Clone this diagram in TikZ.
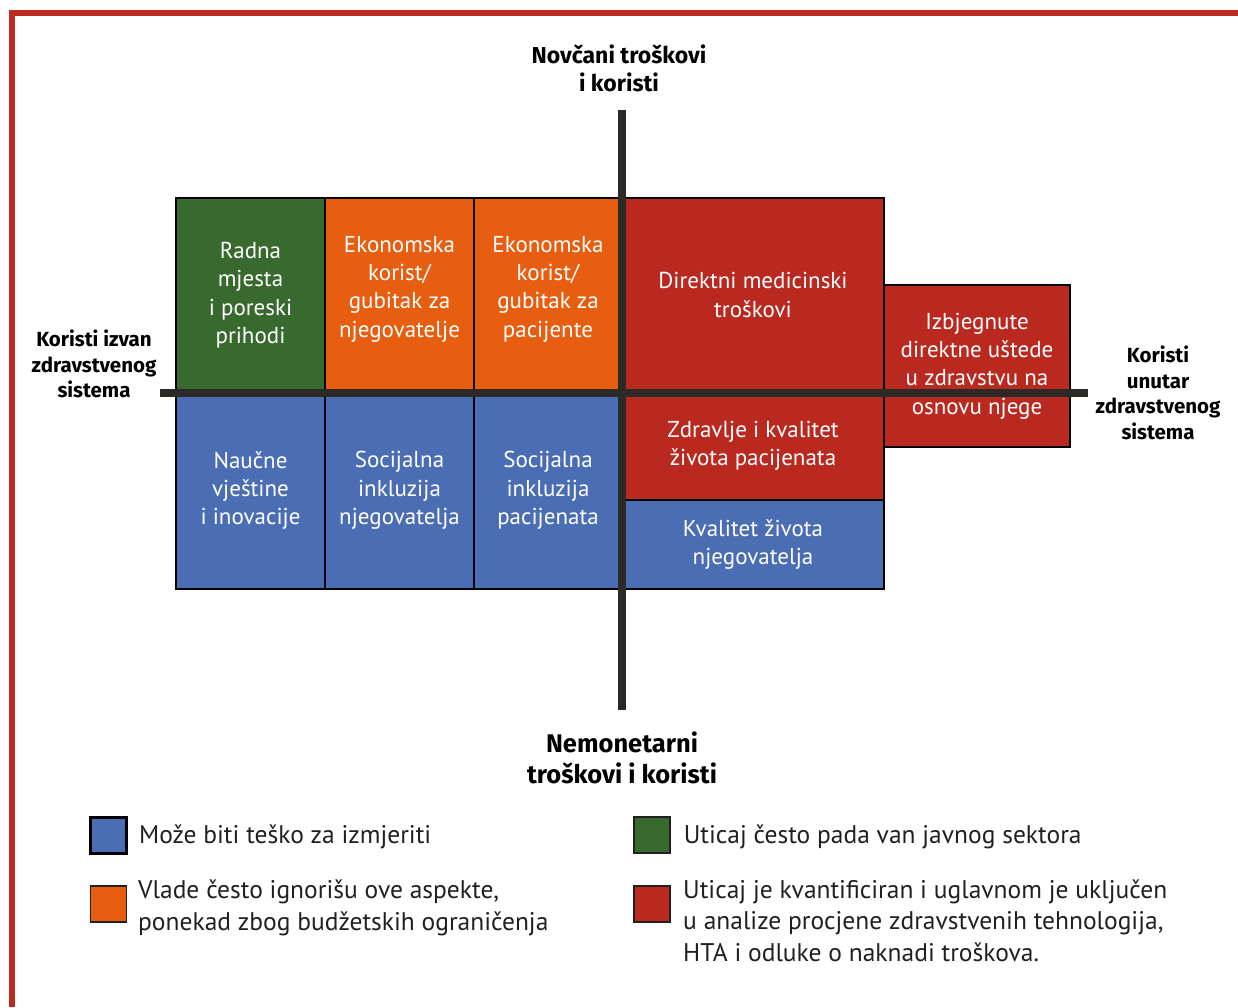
\documentclass[tikz,border=0pt]{standalone}
\usepackage{fontspec}
\setmainfont{PT Sans}
\newfontfamily\headfont{Fira Sans}
\usetikzlibrary{positioning}
\definecolor{frame}{HTML}{BD2B20}
\definecolor{cellgreen}{HTML}{386A2F}
\definecolor{cellorange}{HTML}{E85E10}
\definecolor{cellred}{HTML}{B9291F}
\definecolor{cellblue}{HTML}{4A6DB3}
\definecolor{axisgray}{HTML}{2B2A27}
\definecolor{ink}{HTML}{231F20}

\begin{document}
\begin{tikzpicture}[
  x=1pt, y=-1pt,
  cell/.style={draw=black, line width=2pt, text=white, align=center, inner sep=0pt,
    font=\fontsize{23}{28.3}\selectfont},
  axislabel/.style={text=black, align=center, font=\headfont\bfseries\fontsize{20.5}{25.5}\selectfont},
  legbox/.style={draw=ink, line width=1.2pt, minimum width=36pt, minimum height=36pt, inner sep=0pt},
  legtext/.style={text=ink, align=left, anchor=west, inner sep=0pt,
    font=\fontsize{25.5}{31.5}\selectfont},
]

\useasboundingbox (0,0) rectangle (1238,1007);

% Frame (left and top edge only)
\draw[frame, line width=5.5pt] (12,1007) -- (12,13) -- (1238,13);

% Upper row
\node[cell, fill=cellgreen, minimum width=149pt, minimum height=194pt] (jobs) at (250.5,295)
  {Radna\\mjesta\\i poreski\\prihodi};
\node[cell, fill=cellorange, minimum width=149pt, minimum height=194pt, text depth=17pt] (carerecon) at (399.5,295)
  {Ekonomska\\korist/\\gubitak za\\njegovatelje};
\node[cell, fill=cellorange, minimum width=148pt, minimum height=194pt, text depth=17pt] (patientecon) at (548,295)
  {Ekonomska\\korist/\\gubitak za\\pacijente};
\node[cell, fill=cellred, minimum width=262pt, minimum height=194pt] (directcost) at (753,295)
  {Direktni medicinski\\troškovi};
\node[cell, fill=cellred, minimum width=186pt, minimum height=162pt] (avoided) at (977,366)
  {Izbjegnute\\direktne uštede\\u zdravstvu na\\osnovu njege};

% Lower row
\node[cell, fill=cellblue, minimum width=149pt, minimum height=197pt] (science) at (250.5,490.5)
  {Naučne\\vještine\\i inovacije};
\node[cell, fill=cellblue, minimum width=149pt, minimum height=197pt] (carerincl) at (399.5,490.5)
  {Socijalna\\inkluzija\\njegovatelja};
\node[cell, fill=cellblue, minimum width=148pt, minimum height=197pt] (patientincl) at (548,490.5)
  {Socijalna\\inkluzija\\pacijenata};
\node[cell, fill=cellred, minimum width=262pt, minimum height=108pt] (patienthealth) at (753,446)
  {Zdravlje i kvalitet\\života pacijenata};
\node[cell, fill=cellblue, minimum width=262pt, minimum height=89pt] (carerqol) at (753,544.5)
  {Kvalitet života\\njegovatelja};

% Axes, drawn over the cells
\coordinate (ytop) at (622,110);
\coordinate (ybot) at (622,710);
\coordinate (xleft) at (160,393);
\coordinate (xright) at (1088,393);
\draw[axisgray, line width=8pt] (xleft) -- (xright);
\draw[axisgray, line width=8pt] (ytop) -- (ybot);

% Axis labels
\node[axislabel, font=\headfont\bfseries\fontsize{23}{28}\selectfont] (money) at (619,68)
  {Novčani troškovi\\i koristi};
\node[axislabel, font=\headfont\bfseries\fontsize{25.5}{31}\selectfont] (nonmoney) at (622,758)
  {Nemonetarni\\troškovi i koristi};
\node[axislabel] (outside) at (94,364) {Koristi izvan\\zdravstvenog\\sistema};
\node[axislabel] (inside) at (1158,393) {Koristi\\unutar\\zdravstvenog\\sistema};

% Legend
\node[legbox, fill=cellblue, draw=black, line width=3pt] (keyblue) at (108.5,835) {};
\node[legtext, right=11pt of keyblue, yshift=-2pt] {Može biti teško za izmjeriti};
\node[legbox, fill=cellorange] (keyorange) at (108.5,904) {};
\node[legtext] at (138,908) {Vlade često ignorišu ove aspekte,\\ponekad zbog budžetskih ograničenja};
\node[legbox, fill=cellgreen] (keygreen) at (652,835) {};
\node[legtext, right=13pt of keygreen, yshift=-2pt] {Uticaj često pada van javnog sektora};
\node[legbox, fill=cellred] (keyred) at (652,904) {};
\node[legtext] at (683,920.5) {Uticaj je kvantificiran i uglavnom je uključen\\u analize procjene zdravstvenih tehnologija,\\HTA i odluke o naknadi troškova.};

\end{tikzpicture}
\end{document}
